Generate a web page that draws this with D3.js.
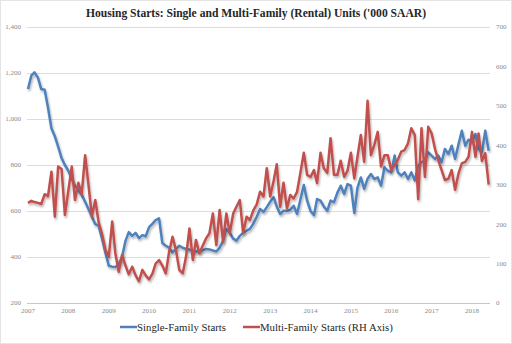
<!DOCTYPE html>
<html lang="en">
<head>
<meta charset="utf-8">
<title>Housing Starts</title>
<script src="https://cdn.jsdelivr.net/npm/d3@7/dist/d3.min.js"></script>
<style>
body{
  margin: 0;
  background: #fff;
}
.tick-label{
  font: 7px "Liberation Serif", serif;
  fill: #8a8a8a;
}
.grid line{
  stroke: #dcdcdc;
  shape-rendering: crispEdges;
}
</style>
</head>
<body>
<svg id="chart" width="512" height="344"></svg>
<script>
  // monthly, Jan 2007 .. Jun 2018 ('000 SAAR)
  var singleFamily = [
    1130, 1190, 1203, 1180, 1130, 1127, 1050, 960, 925, 880, 830, 800,   // 2007
    775, 740, 710, 690, 670, 640, 609, 575, 543, 536, 480, 420,          // 2008
    362, 358, 356, 370, 400, 470, 508, 492, 505, 482, 495, 490,          // 2009
    530, 545, 560, 568, 461, 449, 440, 420, 435, 449, 440, 435,          // 2010
    433, 422, 425, 422, 430, 435, 433, 428, 424, 440, 470, 522,          // 2011
    505, 480, 471, 492, 505, 514, 522, 545, 575, 609, 596, 617,          // 2012
    640, 660, 620, 587, 601, 601, 605, 623, 587, 650, 713, 645,          // 2013
    600, 582, 652, 645, 620, 601, 645, 638, 680, 710, 674, 717,          // 2014
    710, 591, 700, 746, 696, 740, 761, 739, 746, 710, 790, 775,          // 2015
    768, 841, 768, 754, 768, 739, 768, 732, 797, 812, 819, 855,          // 2016
    841, 826, 841, 812, 870, 848, 884, 826, 890, 949, 884, 910,          // 2017
    900, 935, 870, 855, 949, 862                                         // 2018
  ];
  var multiFamily = [
    254, 259, 256, 254, 251, 276, 271, 333, 219, 346, 340, 223,
    285, 346, 261, 305, 276, 375, 300, 220, 261, 205, 175, 135,
    117, 207, 127, 79, 122, 95, 73, 92, 70, 55, 84, 70,
    60, 75, 100, 109, 95, 75, 130, 168, 134, 84, 75, 117,
    189, 109, 160, 126, 145, 164, 177, 227, 147, 236, 155, 227,
    177, 227, 244, 261, 177, 219, 210, 235, 250, 282, 270, 342,
    270, 310, 352, 244, 305, 240, 274, 265, 282, 330, 381, 325,
    320, 337, 304, 381, 342, 330, 418, 325, 325, 361, 320, 335,
    381, 316, 370, 426, 358, 513, 375, 401, 434, 346, 375, 375,
    337, 350, 363, 384, 388, 405, 443, 426, 263, 443, 320, 447,
    430, 390, 363, 337, 312, 315, 337, 287, 329, 354, 358, 371,
    434, 371, 430, 360, 380, 300
  ];
  var leftTicks = [200, 400, 600, 800, 1000, 1200, 1400];
  var rightTicks = [0, 100, 200, 300, 400, 500, 600, 700];
  var years = [2007, 2008, 2009, 2010, 2011, 2012, 2013, 2014, 2015, 2016, 2017, 2018];
  var seriesNames = ['Single-Family Starts', 'Multi-Family Starts (RH Axis)'];
  var colors = ['#4f81bd', '#c0504d'];

  var svg = d3.select('svg');

  var x = d3.scaleTime()
    .domain([new Date(2007, 0, 1), new Date(2018, 0, 1)])
    .range([28, 472]);
  var yLeft = d3.scaleLinear().domain([200, 1400]).range([303, 27]);
  var yRight = d3.scaleLinear().domain([0, 700]).range([303, 27]);

  function monthDate(i) { return new Date(2007, i, 1); }

  // border
  svg.append('rect')
    .attr('x', 0.5).attr('y', 0.5)
    .attr('width', 511).attr('height', 343)
    .attr('fill', 'none')
    .attr('stroke', '#e4e4e4');

  // shadow for lines
  var f = svg.append('defs').append('filter')
    .attr('id', 'shadow')
    .attr('x', '-5%').attr('y', '-5%')
    .attr('width', '110%').attr('height', '120%');
  f.append('feDropShadow')
    .attr('dx', 1).attr('dy', 2)
    .attr('stdDeviation', 1)
    .attr('flood-color', '#000')
    .attr('flood-opacity', 0.3);

  svg.append('text')
    .attr('x', 256)
    .attr('y', 13)
    .attr('dy', '0.35em')
    .attr('text-anchor', 'middle')
    .style('font', 'bold 11.6px "Liberation Serif", serif')
    .style('fill', '#262626')
    .text("Housing Starts: Single and Multi-Family (Rental) Units  ('000 SAAR)");

  // gridlines
  svg.append('g')
    .attr('class', 'grid')
    .selectAll('line')
    .data(leftTicks)
    .enter().append('line')
      .attr('x1', 27)
      .attr('x2', 490)
      .attr('y1', function(d) { return Math.round(yLeft(d)) + 0.5; })
      .attr('y2', function(d) { return Math.round(yLeft(d)) + 0.5; })
      .style('stroke', function(d) { return d === 200 ? '#c8c8c8' : '#dcdcdc'; });

  // left axis labels
  svg.append('g')
    .selectAll('text')
    .data(leftTicks)
    .enter().append('text')
      .attr('class', 'tick-label')
      .attr('x', 21)
      .attr('y', function(d) { return yLeft(d); })
      .attr('dy', '0.35em')
      .attr('text-anchor', 'end')
      .text(d3.format(','));

  // right axis labels
  svg.append('g')
    .selectAll('text')
    .data(rightTicks)
    .enter().append('text')
      .attr('class', 'tick-label')
      .attr('x', 496)
      .attr('y', function(d) { return yRight(d); })
      .attr('dy', '0.35em')
      .text(function(d) { return d; });

  // year labels
  svg.append('g')
    .selectAll('text')
    .data(years)
    .enter().append('text')
      .attr('class', 'tick-label')
      .attr('x', function(d) { return x(new Date(d, 0, 1)); })
      .attr('y', 311)
      .attr('dy', '0.35em')
      .attr('text-anchor', 'middle')
      .text(function(d) { return d; });

  var lineLeft = d3.line()
    .x(function(d, i) { return x(monthDate(i)); })
    .y(function(d) { return yLeft(d); });
  var lineRight = d3.line()
    .x(function(d, i) { return x(monthDate(i)); })
    .y(function(d) { return yRight(d); });

  svg.append('path')
    .datum(singleFamily)
    .attr('d', lineLeft)
    .attr('fill', 'none')
    .attr('stroke', colors[0])
    .attr('stroke-width', 2.5)
    .attr('stroke-linejoin', 'round')
    .attr('filter', 'url(#shadow)');

  svg.append('path')
    .datum(multiFamily)
    .attr('d', lineRight)
    .attr('fill', 'none')
    .attr('stroke', colors[1])
    .attr('stroke-width', 2.5)
    .attr('stroke-linejoin', 'round')
    .attr('filter', 'url(#shadow)');

  // legend
  var legX = [120, 243];
  var leg = svg.append('g')
    .selectAll('g')
    .data(seriesNames)
    .enter().append('g')
      .attr('transform', function(d, i) { return 'translate(' + legX[i] + ',327)'; });
  leg.append('line')
    .attr('x1', 0).attr('x2', 17)
    .attr('stroke', function(d, i) { return colors[i]; })
    .attr('stroke-width', 2.5);
  leg.append('text')
    .attr('x', 17)
    .attr('dy', '0.35em')
    .style('font', '10.8px "Liberation Serif", serif')
    .style('fill', '#262626')
    .text(function(d) { return d; });
</script>
</body>
</html>
